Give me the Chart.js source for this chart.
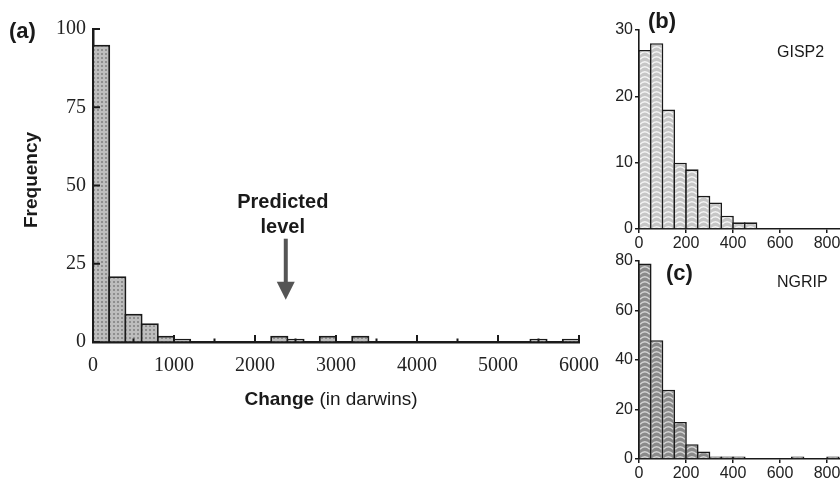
<!DOCTYPE html>
<html>
<head>
<meta charset="utf-8">
<script src="https://cdn.jsdelivr.net/npm/chart.js@4.4.1/dist/chart.umd.min.js"></script>
<style>
  html, body { margin: 0; padding: 0; background: #fff; overflow: hidden; }
  #wrap { position: relative; width: 840px; height: 481px; overflow: hidden; }
  canvas { position: absolute; }
  #chartA { left: 0; top: 0; }
  #chartB { left: 600px; top: 0; }
  #chartC { left: 600px; top: 245px; }
</style>
</head>
<body>
<div id="wrap">
  <canvas id="chartA" width="620" height="420"></canvas>
  <canvas id="chartB" width="260" height="250"></canvas>
  <canvas id="chartC" width="260" height="236"></canvas>
</div>
<script>
// (a) all changes, bins of 200 darwins
const binsA = [100, 300, 500, 700, 900, 1100, 1300, 1500, 1700, 1900,
  2100, 2300, 2500, 2700, 2900, 3100, 3300, 3500, 3700, 3900,
  4100, 4300, 4500, 4700, 4900, 5100, 5300, 5500, 5700, 5900];
const freqA = [95, 21, 9, 6, 2, 1, 0, 0, 0, 0,
  0, 2, 1, 0, 2, 0, 2, 0, 0, 0,
  0, 0, 0, 0, 0, 0, 0, 1, 0, 1];
const xTicksA = [0, 1000, 2000, 3000, 4000, 5000, 6000];
const xMinorA = [500, 1500, 2500, 3500, 4500, 5500];
const yTicksA = [0, 25, 50, 75, 100];
const predictedLevel = 2380;

// (b) GISP2, bins of 50
const binsB = [25, 75, 125, 175, 225, 275, 325, 375, 425, 475];
const gisp2 = [27, 28, 18, 10, 9, 5, 4, 2, 1, 1];
const yTicksB = [0, 10, 20, 30];

// (c) NGRIP, bins of 50
const binsC = [25, 75, 125, 175, 225, 275, 325, 375, 425, 475, 525, 575, 625, 675, 725, 775, 825];
const ngrip = [79, 48, 28, 15, 6, 3, 1, 1, 1, 0, 0, 0, 0, 1, 0, 0, 1];
const yTicksC = [0, 20, 40, 60, 80];

const xTicksSmall = [0, 200, 400, 600, 800];

const INK = '#1a1a1a';
const SANS = '"Liberation Sans", Arial, sans-serif';
const SERIF = '"Liberation Serif", "Times New Roman", serif';

function dotPattern() {
  const c = document.createElement('canvas');
  c.width = 4; c.height = 4;
  const g = c.getContext('2d');
  g.fillStyle = '#bdbdbd';
  g.fillRect(0, 0, 4, 4);
  g.fillStyle = '#8e8e8e';
  g.fillRect(1, 1, 2, 2);
  return g.createPattern(c, 'repeat');
}

// one chevron per bar: the tile holds 4 bars (200 units) and is shifted to the axis
function wavePattern(base, wave) {
  const W = 47, H = 5, n = 4, step = W / n;
  const c = document.createElement('canvas');
  c.width = W; c.height = H;
  const g = c.getContext('2d');
  g.fillStyle = base;
  g.fillRect(0, 0, W, H);
  g.strokeStyle = wave;
  g.lineWidth = 1.4;
  g.beginPath();
  for (let i = 0; i < n; i++) {
    g.moveTo(i * step + 1, 4.2);
    g.quadraticCurveTo(i * step + step / 2, -0.8, (i + 1) * step - 1, 4.2);
  }
  g.stroke();
  const p = g.createPattern(c, 'repeat');
  return p;
}

function alignedFill(pattern) {
  return ctx => {
    const area = ctx.chart.chartArea;
    if (area && pattern.setTransform) {
      pattern.setTransform(new DOMMatrix().translate(area.left, 0));
    }
    return pattern;
  };
}

function pts(xs, ys) {
  return xs.map((x, i) => ({ x, y: ys[i] }));
}

function fixedTicks(list) {
  return s => { s.ticks = list.map(v => ({ value: v })); };
}

const plain = v => String(v);

const annoA = {
  id: 'annoA',
  afterDraw(chart) {
    const { ctx, scales: { x, y } } = chart;
    ctx.save();
    // inward ticks
    ctx.strokeStyle = INK;
    ctx.lineWidth = 2;
    ctx.beginPath();
    yTicksA.forEach(v => {
      const py = y.getPixelForValue(v);
      ctx.moveTo(x.left, py); ctx.lineTo(x.left + 7, py);
    });
    xTicksA.forEach(v => {
      const px = x.getPixelForValue(v);
      ctx.moveTo(px, y.bottom); ctx.lineTo(px, y.bottom - 7);
    });
    xMinorA.forEach(v => {
      const px = x.getPixelForValue(v);
      ctx.moveTo(px, y.bottom); ctx.lineTo(px, y.bottom - 3.5);
    });
    ctx.stroke();

    // arrow for predicted level
    const ax = x.getPixelForValue(predictedLevel);
    const top = y.getPixelForValue(33);
    const tip = y.getPixelForValue(13.5);
    ctx.strokeStyle = '#555';
    ctx.fillStyle = '#555';
    ctx.lineWidth = 4;
    ctx.beginPath();
    ctx.moveTo(ax, top); ctx.lineTo(ax, tip - 12);
    ctx.stroke();
    ctx.beginPath();
    ctx.moveTo(ax - 9, tip - 18);
    ctx.lineTo(ax + 9, tip - 18);
    ctx.lineTo(ax, tip);
    ctx.closePath();
    ctx.fill();

    ctx.fillStyle = INK;
    ctx.textAlign = 'center';
    ctx.textBaseline = 'alphabetic';
    ctx.font = 'bold 20px ' + SANS;
    ctx.fillText('Predicted', ax - 3, 208);
    ctx.fillText('level', ax - 3, 233);

    // panel letter and axis titles
    ctx.textAlign = 'left';
    ctx.font = 'bold 22px ' + SANS;
    ctx.fillText('(a)', 9, 38);

    ctx.save();
    ctx.translate(37, 180);
    ctx.rotate(-Math.PI / 2);
    ctx.textAlign = 'center';
    ctx.font = 'bold 19px ' + SANS;
    ctx.fillText('Frequency', 0, 0);
    ctx.restore();

    ctx.font = 'bold 19px ' + SANS;
    const w1 = ctx.measureText('Change').width;
    ctx.font = '19px ' + SANS;
    const w2 = ctx.measureText(' (in darwins)').width;
    const sx = 331 - (w1 + w2) / 2;
    ctx.font = 'bold 19px ' + SANS;
    ctx.fillText('Change', sx, 405);
    ctx.font = '19px ' + SANS;
    ctx.fillText(' (in darwins)', sx + w1, 405);
    ctx.restore();
  }
};

function labelPlugin(letter, lx, ly, name, nx, ny) {
  return {
    id: 'labels' + letter,
    afterDraw(chart) {
      const ctx = chart.ctx;
      ctx.save();
      ctx.fillStyle = INK;
      ctx.textBaseline = 'alphabetic';
      ctx.font = 'bold 22px ' + SANS;
      ctx.fillText(letter, lx, ly);
      ctx.font = '16px ' + SANS;
      ctx.fillText(name, nx, ny);
      ctx.restore();
    }
  };
}

new Chart(document.getElementById('chartA'), {
  type: 'bar',
  data: {
    datasets: [{
      data: pts(binsA, freqA),
      backgroundColor: dotPattern(),
      borderColor: INK,
      borderWidth: 2,
      barPercentage: 1.12,
      categoryPercentage: 1,
      clip: false,
    }],
  },
  options: {
    responsive: false,
    animation: false,
    layout: { padding: { top: 29, left: 0, right: 41, bottom: 0 } },
    plugins: { legend: { display: false }, tooltip: { enabled: false } },
    scales: {
      x: {
        type: 'linear',
        min: 0,
        max: 6000,
        offset: false,
        z: 1,
        afterBuildTicks: fixedTicks(xTicksA),
        afterFit: s => { s.height = 78; },
        grid: { drawOnChartArea: false, drawTicks: false, offset: false },
        border: { color: INK, width: 2.5 },
        ticks: { padding: 12, color: '#222', font: { family: SERIF, size: 20 }, callback: plain },
      },
      y: {
        min: 0,
        max: 100,
        z: 1,
        afterBuildTicks: fixedTicks(yTicksA),
        afterFit: s => { s.width = 93; },
        grid: { drawOnChartArea: false, drawTicks: false },
        border: { color: INK, width: 2.5 },
        ticks: { padding: 7, color: '#222', font: { family: SERIF, size: 20 }, callback: plain },
      },
    },
  },
  plugins: [annoA],
});

function smallChart(id, bins, values, fill, yMax, yTicks, topPad, xHeight, plugin) {
  return new Chart(document.getElementById(id), {
    type: 'bar',
    data: {
      datasets: [{
        data: pts(bins, values),
        backgroundColor: alignedFill(fill),
        borderColor: INK,
        borderWidth: 1.6,
        barPercentage: 1.137,
        categoryPercentage: 1,
        clip: false,
      }],
    },
    options: {
      responsive: false,
      animation: false,
      layout: { padding: { top: topPad, left: 0, right: 20, bottom: 0 } },
      plugins: { legend: { display: false }, tooltip: { enabled: false } },
      scales: {
        x: {
          type: 'linear',
          min: 0,
          max: 855,
          offset: false,
          z: 1,
          afterBuildTicks: fixedTicks(xTicksSmall),
          afterFit: s => { s.height = xHeight; },
          grid: { drawOnChartArea: false, tickLength: 4, color: INK, lineWidth: 1.5, offset: false },
          border: { color: INK, width: 1.6 },
          ticks: { padding: 1, color: '#222', font: { family: SANS, size: 16 }, callback: plain },
        },
        y: {
          min: 0,
          max: yMax,
          z: 1,
          afterBuildTicks: fixedTicks(yTicks),
          afterFit: s => { s.width = 39; },
          grid: { drawOnChartArea: false, tickLength: 4, color: INK, lineWidth: 1.5 },
          border: { color: INK, width: 1.6 },
          ticks: { padding: 2, color: '#222', font: { family: SANS, size: 16 }, callback: plain },
        },
      },
    },
    plugins: [plugin],
  });
}

smallChart('chartB', binsB, gisp2, wavePattern('#c6c6c6', '#f4f4f4'), 30, yTicksB, 30, 21,
  labelPlugin('(b)', 48, 28, 'GISP2', 177, 57));
smallChart('chartC', binsC, ngrip, wavePattern('#8a8a8a', '#d4d4d4'), 80, yTicksC, 16, 22,
  labelPlugin('(c)', 66, 35, 'NGRIP', 177, 42));
</script>
</body>
</html>
